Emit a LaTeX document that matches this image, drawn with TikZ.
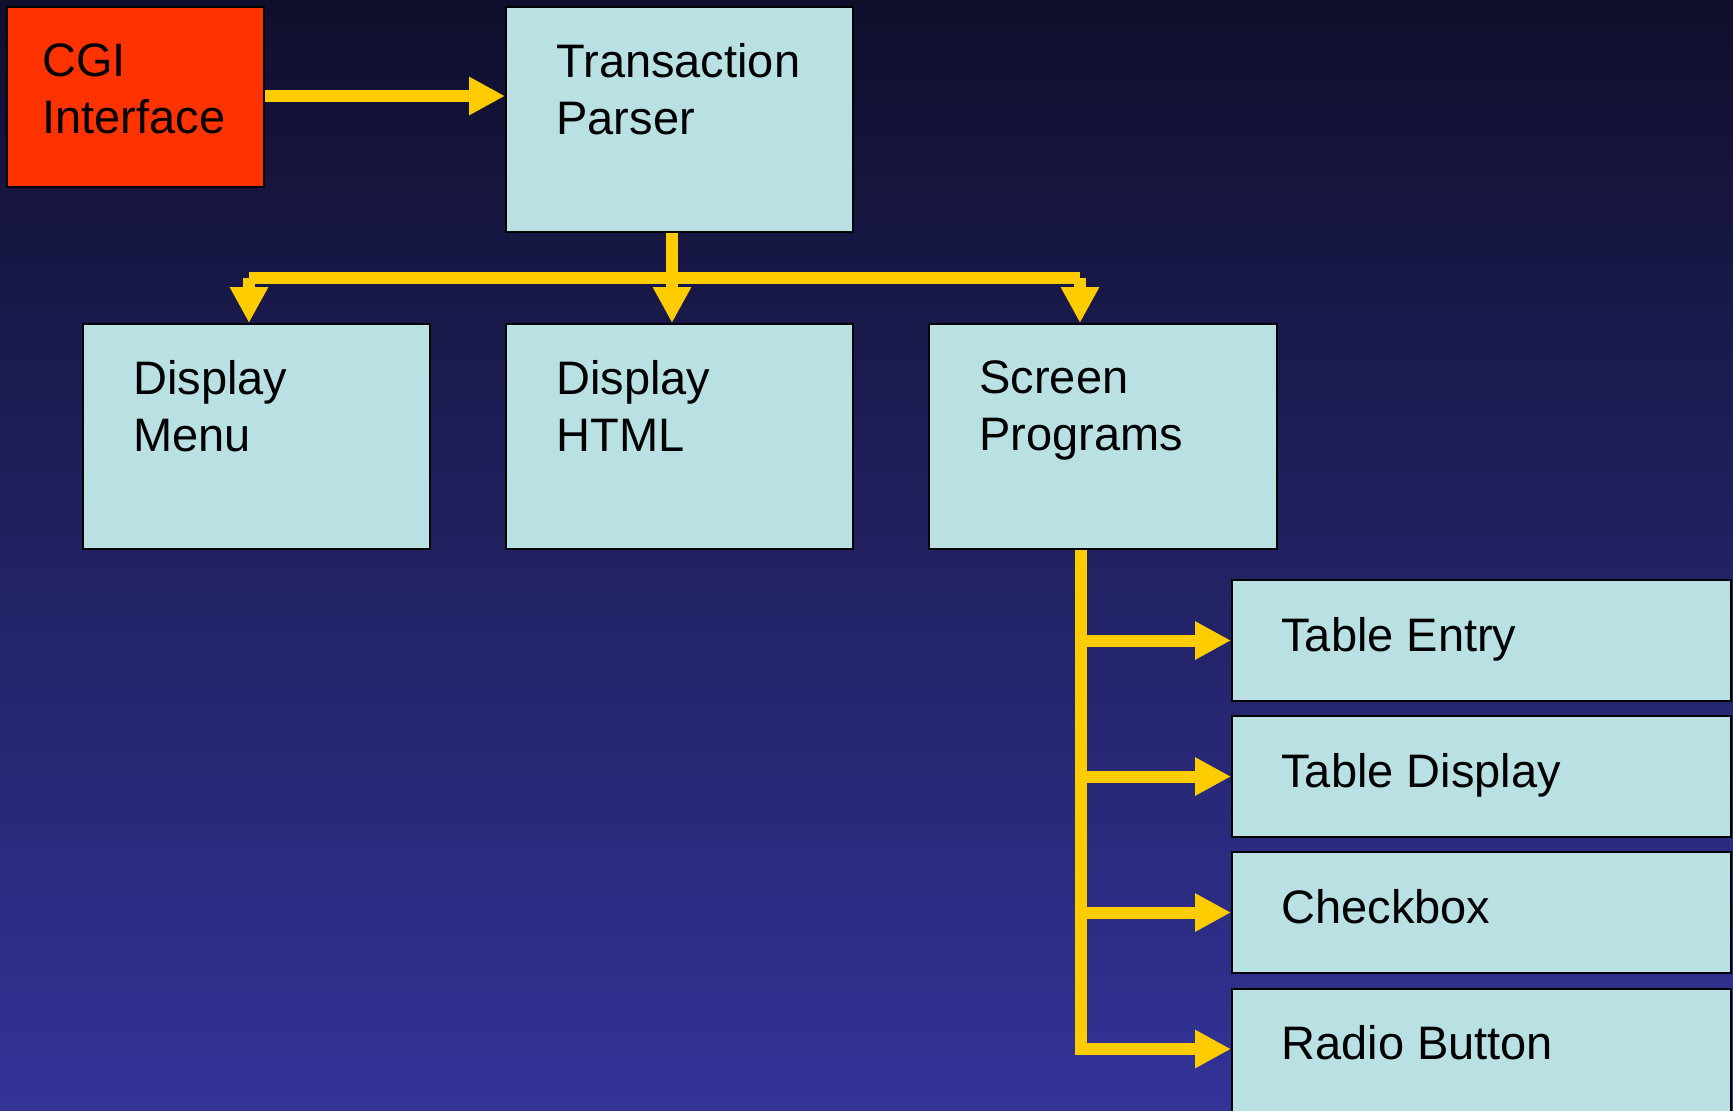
\documentclass[tikz,border=0pt]{standalone}
\usepackage{fontspec}
\setmainfont{Liberation Sans}
\usetikzlibrary{fit,arrows.meta}
\definecolor{bgtop}{RGB}{15,15,44}
\definecolor{bgbot}{RGB}{51,51,152}
\definecolor{boxc}{RGB}{185,224,227}
\definecolor{cgic}{RGB}{255,51,0}
\definecolor{arrc}{RGB}{255,204,0}
\tikzset{
  box/.style={draw=black, line width=1pt, fill=boxc, inner sep=0pt},
  redbox/.style={box, fill=cgic},
  txt/.style={anchor=north west, inner sep=0pt, align=left, text=black,
    font=\fontsize{23.5pt}{28.75pt}\selectfont},
  bus/.style={draw=arrc, line width=6pt},
  arr/.style={bus, -{Triangle[length=18pt,width=18pt]}}
}
\begin{document}
\begin{tikzpicture}[x=0.5pt,y=-0.5pt]
\shade[top color=bgtop, bottom color=bgbot] (0,0) rectangle (1733,1110);
\useasboundingbox (0,0) rectangle (1733,1110);
% boxes
\node[redbox, fit={(7,7) (264,187)}] (cgi) {};
\node[box, fit={(506,7) (853,232)}] (tp) {};
\node[box, fit={(83,324) (430,549)}] (dm) {};
\node[box, fit={(506,324) (853,549)}] (dh) {};
\node[box, fit={(929,324) (1277,549)}] (sp) {};
\node[box, fit={(1232,580) (1731,701)}] (te) {};
\node[box, fit={(1232,716) (1731,837)}] (td) {};
\node[box, fit={(1232,852) (1731,973)}] (cb) {};
\node[box, fit={(1232,989) (1731,1116)}] (rb) {};
% texts
\node[txt] (cgi-t) at (42,43) {CGI\\Interface};
\node[txt] (tp-t) at (556,43) {Transaction\\Parser};
\node[txt] (dm-t) at (133,360) {Display\\Menu};
\node[txt] (dh-t) at (556,360) {Display\\HTML};
\node[txt] (sp-t) at (979,360) {Screen\\Programs};
\node[txt] (te-t) at (1281,617) {Table Entry};
\node[txt] (td-t) at (1281,753) {Table Display};
\node[txt] (cb-t) at (1281,889) {Checkbox};
\node[txt] (rb-t) at (1281,1025) {Radio Button};
% connectors
\draw[arr] (cgi.east |- 0,96) -- (tp.west |- 0,96);
\coordinate (busL) at (249,278);
\coordinate (busR) at (1080,278);
\draw[bus] (busL) -- (busR);
\draw[arr] (tp.south -| 672,0) -- (dh.north -| 672,0);
\draw[arr] (busL) -- (dm.north -| busL);
\draw[arr] (busR) -- (sp.north -| busR);
\coordinate (spx) at (1081,0);
\draw[arr] (sp.south -| spx) |- (rb.west |- 0,1049);
\draw[arr] (te.west -| spx) -- (te.west);
\draw[arr] (td.west -| spx) -- (td.west);
\draw[arr] (cb.west -| spx) -- (cb.west);
\end{tikzpicture}
\end{document}
